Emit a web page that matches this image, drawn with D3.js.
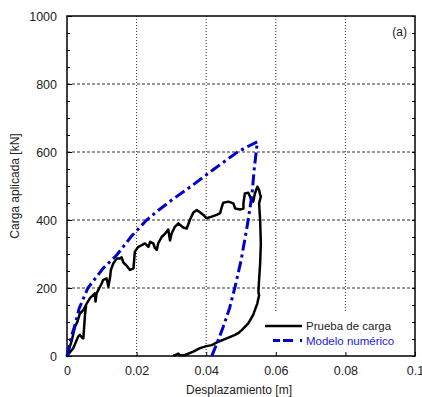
<!DOCTYPE html>
<html>
<head>
<meta charset="utf-8">
<script src="https://cdn.jsdelivr.net/npm/d3@7"></script>
<style>
  body { margin: 0; background: #fff; }
  text { font-family: "Liberation Sans", Arial, sans-serif; }
</style>
</head>
<body>
<div id="chart"></div>
<script>
// Carga vs desplazamiento
const width = 422; // width of the svg
const height = 397; // height of the svg
const margin = {top: 16, right: 7, bottom: 41, left: 67};

const xTicks = [0, 0.02, 0.04, 0.06, 0.08, 0.1];
const xTickLabels = ["0", "0.02", "0.04", "0.06", "0.08", "0.1"];
const yTicks = [0, 200, 400, 600, 800, 1000];
const yTickLabels = ["0", "200", "400", "600", "800", "1000"];
const yMinorTicks = d3.range(0, 1001, 50); // minor ticks every 50 kN

const seriesNames = ["Prueba de carga", "Modelo numérico"];
const seriesColors = ["#000000", "#0000cc"];

// measured curve, starts at the junction so the little loop near the origin is one polyline
const pruebaCarga = [
  [0.0055,148],[0.0052,125],[0.0047,52],[0.0045,52],[0.0037,62],[0.0032,57],[0.0018,23],[0,0],
  [0.0014,47],[0.0023,86],[0.0030,101],[0.0037,125],[0.0047,135],[0.0057,155],[0.0066,170],
  [0.0080,184],[0.0082,160],[0.0085,184],[0.0100,214],[0.0104,224],[0.0114,228],[0.0119,204],
  [0.0124,233],[0.0126,253],[0.0133,272],[0.0143,287],[0.0152,287],[0.0157,290],[0.0162,275],
  [0.0172,265],[0.0181,253],[0.0191,258],[0.0195,307],[0.0205,321],[0.0215,326],[0.0224,331],
  [0.0234,321],[0.0239,336],[0.0248,331],[0.0253,317],[0.0258,312],[0.0262,331],[0.0272,350],
  [0.0282,360],[0.0291,372],[0.0296,340],[0.0301,361],[0.0310,380],[0.0320,390],[0.0334,378],
  [0.0344,375],[0.0353,400],[0.0363,422],[0.0373,429],[0.0382,423],[0.0392,415],[0.0401,405],
  [0.0416,410],[0.0430,415],[0.0440,420],[0.0445,439],[0.0449,451],[0.0464,454],[0.0478,449],
  [0.0483,434],[0.0497,431],[0.0507,434],[0.0507,449],[0.0511,478],[0.0521,480],[0.0526,469],
  [0.0529,459],[0.0535,454],[0.0540,478],[0.0547,498],[0.0552,488],[0.0555,474],[0.0557,469],
  [0.0552,449],[0.0555,400],[0.0557,331],[0.0555,272],[0.0552,224],[0.0550,189],[0.0552,179],
  [0.0547,155],[0.0535,121],[0.0521,96],[0.0502,76],[0.0492,67],[0.0483,62],[0.0459,52],
  [0.0435,42],[0.0416,32],[0.0401,29],[0.0382,23],[0.0363,13],[0.0339,3],[0.0325,2],
  [0.0320,7],[0.0312,3],[0.0305,1]
];

// numerical model: loading branch then unloading branch
const modeloNumerico = [
  [0,0],[0.0004,18],[0.0014,62],[0.0023,91],[0.0035,140],[0.006,200],[0.0104,258],[0.0143,297],
  [0.0185,352],[0.0229,400],[0.0262,428],[0.0300,458],[0.0358,500],[0.0420,548],[0.0490,600],
  [0.0521,617],[0.0547,630],
  [0.0538,550],[0.0531,469],[0.0516,371],[0.0500,280],[0.0483,204],[0.0467,140],[0.0449,86],
  [0.0432,40],[0.0416,0]
];

const svg = d3.select("#chart")
  .append("svg")
  .attr("width", width)
  .attr("height", height);

const xScale = d3.scaleLinear()
  .domain([0, 0.1])
  .range([margin.left, width - margin.right]);

const yScale = d3.scaleLinear()
  .domain([0, 1000])
  .range([height - margin.bottom, margin.top]);

const x0 = xScale(0), x1 = xScale(0.1), y0 = yScale(0), y1 = yScale(1000);

// grid lines
svg.append("g")
  .selectAll("line")
  .data(yTicks.slice(1, -1))
  .join("line")
  .attr("x1", x0).attr("x2", x1)
  .attr("y1", d => yScale(d)).attr("y2", d => yScale(d))
  .attr("stroke", "#333").attr("stroke-width", 1)
  .attr("stroke-dasharray", "3,2");

svg.append("g")
  .selectAll("line")
  .data(xTicks.slice(1, -1))
  .join("line")
  .attr("x1", d => xScale(d)).attr("x2", d => xScale(d))
  .attr("y1", y0).attr("y2", y1)
  .attr("stroke", "#333").attr("stroke-width", 1)
  .attr("stroke-dasharray", "1,2");

// legend background hides the grid behind it
svg.append("rect")
  .attr("x", 262).attr("y", 312)
  .attr("width", x1 - 262 - 1).attr("height", y0 - 312)
  .attr("fill", "#fff");

// axes with inward ticks
svg.append("g")
  .attr("transform", `translate(0,${y0})`)
  .call(d3.axisBottom(xScale).tickValues(xTicks).tickFormat((d, i) => xTickLabels[i]).tickSize(-4).tickPadding(10))
  .call(g => g.select(".domain").remove())
  .call(g => g.selectAll("text").attr("font-size", 12.5).attr("fill", "#222").attr("font-family", "Liberation Sans, Arial, sans-serif"));

svg.append("g")
  .attr("transform", `translate(${x0},0)`)
  .call(d3.axisLeft(yScale).tickValues(yTicks).tickFormat((d, i) => yTickLabels[i]).tickSize(-5).tickPadding(10))
  .call(g => g.select(".domain").remove())
  .call(g => g.selectAll("text").attr("font-size", 12.5).attr("fill", "#222").attr("font-family", "Liberation Sans, Arial, sans-serif"));

svg.append("g")
  .attr("transform", `translate(${x0},0)`)
  .call(d3.axisLeft(yScale).tickValues(yMinorTicks).tickSize(-3).tickFormat(""))
  .call(g => g.select(".domain").remove());

svg.append("g")
  .attr("transform", `translate(${x1},0)`)
  .call(d3.axisRight(yScale).tickValues(yMinorTicks).tickSize(-3).tickFormat(""))
  .call(g => g.select(".domain").remove());

// frame
svg.append("rect")
  .attr("x", x0).attr("y", y1)
  .attr("width", x1 - x0).attr("height", y0 - y1)
  .attr("fill", "none").attr("stroke", "#000").attr("stroke-width", 1.5);

// curves
const line = d3.line()
  .x(d => xScale(d[0]))
  .y(d => yScale(d[1]));

svg.append("path")
  .datum(pruebaCarga)
  .attr("fill", "none")
  .attr("stroke", seriesColors[0])
  .attr("stroke-width", 2.5)
  .attr("stroke-linejoin", "round")
  .attr("d", line);

svg.append("path")
  .datum(modeloNumerico)
  .attr("fill", "none")
  .attr("stroke", seriesColors[1])
  .attr("stroke-width", 3)
  .attr("stroke-dasharray", "11,4,3,4")
  .attr("d", line);

// legend
const legend = svg.append("g");
seriesNames.forEach((name, i) => {
  const ly = 326 + i * 14.5;
  legend.append("line")
    .attr("x1", i == 0 ? 265 : 273).attr("x2", 302)
    .attr("y1", ly).attr("y2", ly)
    .attr("stroke", seriesColors[i])
    .attr("stroke-width", i == 0 ? 2.5 : 3)
    .attr("stroke-dasharray", i == 0 ? null : "7,3,10");
  legend.append("text")
    .attr("x", 306).attr("y", ly + 4)
    .attr("font-size", 11.5)
    .attr("fill", i == 0 ? "#222" : "#1a1ae0")
    .text(name);
});

// titles
svg.append("text")
  .attr("x", (x0 + x1) / 2 - 2).attr("y", 394)
  .attr("text-anchor", "middle")
  .attr("font-size", 12).attr("fill", "#222")
  .text("Desplazamiento [m]");

svg.append("text")
  .attr("transform", `translate(19,${(y0 + y1) / 2}) rotate(-90)`)
  .attr("text-anchor", "middle")
  .attr("font-size", 12).attr("fill", "#222")
  .text("Carga aplicada [kN]");

svg.append("text")
  .attr("x", 407).attr("y", 36)
  .attr("text-anchor", "end")
  .attr("font-size", 12).attr("fill", "#222")
  .text("(a)");
</script>
</body>
</html>
